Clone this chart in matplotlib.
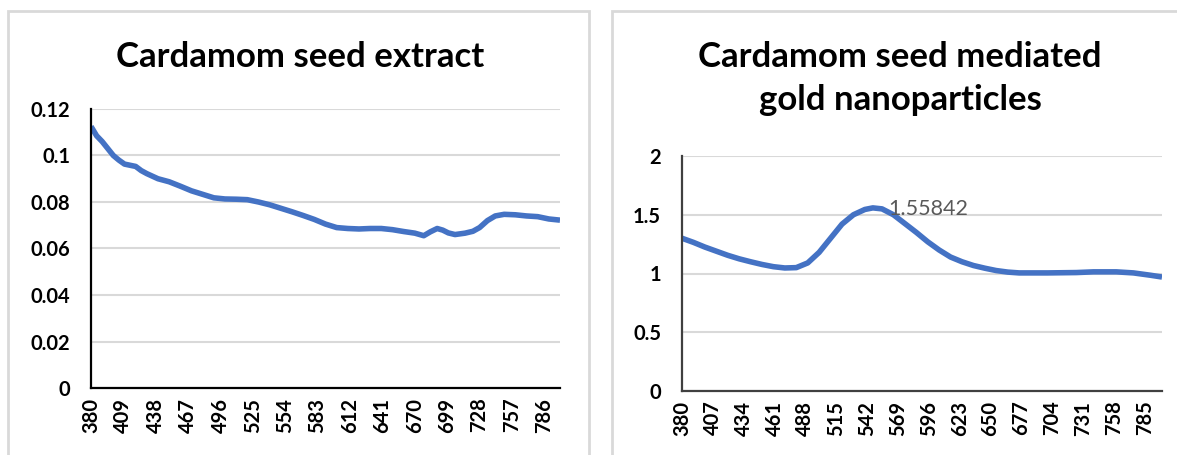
import matplotlib
matplotlib.use("Agg")
import matplotlib.pyplot as plt
from matplotlib.patches import Rectangle

plt.rcParams['font.family'] = ['Lato', 'DejaVu Sans']

# ---- data: left chart (Cardamom seed extract) ----
wl_extract = [380, 385, 390, 395, 400, 405, 410, 415, 420, 425, 430, 440, 450, 460,
              470, 480, 490, 500, 510, 520, 530, 540, 550, 560, 570, 580, 590, 600,
              610, 620, 630, 640, 650, 660, 670, 678, 684, 690, 695, 700, 706, 715,
              722, 728, 735, 742, 750, 760, 770, 780, 790, 800]
abs_extract = [0.1125, 0.1085, 0.1060, 0.1030, 0.1000, 0.0980, 0.0963, 0.0958, 0.0953,
               0.0935, 0.0922, 0.0900, 0.0887, 0.0868, 0.0848, 0.0833, 0.0818, 0.0813,
               0.0812, 0.0810, 0.0800, 0.0788, 0.0773, 0.0758, 0.0742, 0.0725, 0.0705,
               0.0690, 0.0686, 0.0684, 0.0686, 0.0686, 0.0681, 0.0673, 0.0666, 0.0655,
               0.0672, 0.0686, 0.0679, 0.0667, 0.0660, 0.0666, 0.0674, 0.0690, 0.0720,
               0.0740, 0.0747, 0.0745, 0.0740, 0.0737, 0.0727, 0.0722]
ticks_extract = [380, 409, 438, 467, 496, 525, 554, 583, 612, 641, 670, 699, 728, 757, 786]
yticks_extract = [0, 0.02, 0.04, 0.06, 0.08, 0.1, 0.12]
ylabels_extract = ['0', '0.02', '0.04', '0.06', '0.08', '0.1', '0.12']

# ---- data: right chart (gold nanoparticles) ----
wl_gold = [380, 390, 400, 410, 420, 430, 440, 450, 460, 470, 480, 490, 500, 510, 520,
           530, 540, 547, 555, 565, 575, 585, 595, 605, 615, 625, 635, 645, 655, 665,
           675, 700, 725, 740, 760, 775, 790, 800]
abs_gold = [1.30, 1.265, 1.225, 1.19, 1.155, 1.125, 1.10, 1.077, 1.058, 1.047, 1.050,
            1.090, 1.180, 1.300, 1.420, 1.500, 1.545, 1.55842, 1.550, 1.500, 1.425,
            1.350, 1.270, 1.200, 1.140, 1.100, 1.068, 1.045, 1.025, 1.012, 1.005,
            1.005, 1.008, 1.014, 1.014, 1.005, 0.985, 0.970]
ticks_gold = [380, 407, 434, 461, 488, 515, 542, 569, 596, 623, 650, 677, 704, 731, 758, 785]
yticks_gold = [0, 0.5, 1, 1.5, 2]
ylabels_gold = ['0', '0.5', '1', '1.5', '2']
peak_wl = 547
peak_val = 1.55842

W, H = 1177, 455
fig = plt.figure(figsize=(W / 100, H / 100), dpi=100)
fig.patch.set_facecolor('white')

# panel borders
border = '#d9d9d9'
fig.patches.append(Rectangle((8 / W, -0.05), (589 - 8) / W, (H - 11) / H + 0.05,
                             transform=fig.transFigure, fill=False,
                             edgecolor=border, linewidth=2))
fig.patches.append(Rectangle((612 / W, -0.05), (W + 20 - 612) / W, (H - 11) / H + 0.05,
                             transform=fig.transFigure, fill=False,
                             edgecolor=border, linewidth=2))

line_color = '#4472C4'
tick_fs = 14.5
title_fs = 25


def style(ax, spine_color):
    for s in ['top', 'right']:
        ax.spines[s].set_visible(False)
    for s in ['left', 'bottom']:
        ax.spines[s].set_color(spine_color)
        ax.spines[s].set_linewidth(1.6)
    ax.grid(axis='y', color='#d9d9d9', linewidth=1.5)
    ax.set_axisbelow(True)
    ax.tick_params(axis='both', length=0)
    ax.tick_params(axis='y', pad=15)
    ax.tick_params(axis='x', pad=7)
    for lab in ax.get_xticklabels() + ax.get_yticklabels():
        lab.set_fontweight('bold')
        lab.set_fontsize(tick_fs)
        lab.set_color('black')


# left axes
ax1 = fig.add_axes([91 / W, 1 - 388 / H, (560 - 91) / W, (388 - 109) / H])
ax1.plot(wl_extract, abs_extract, color=line_color, linewidth=4.0, solid_capstyle='butt')
ax1.set_xlim(380, 800)
ax1.set_ylim(0, 0.12)
ax1.set_xticks(ticks_extract)
ax1.set_xticklabels([str(t) for t in ticks_extract], rotation=90)
ax1.set_yticks(yticks_extract)
ax1.set_yticklabels(ylabels_extract)
style(ax1, 'black')
fig.text(300 / W, 1 - 57 / H, 'Cardamom seed extract', ha='center', va='center',
         fontsize=title_fs, fontweight='bold')

# right axes
ax2 = fig.add_axes([682 / W, 1 - 391 / H, (1162 - 682) / W, (391 - 156) / H])
ax2.plot(wl_gold, abs_gold, color=line_color, linewidth=4.0, solid_capstyle='butt')
ax2.set_xlim(380, 800)
ax2.set_ylim(0, 2)
ax2.set_xticks(ticks_gold)
ax2.set_xticklabels([str(t) for t in ticks_gold], rotation=90)
ax2.set_yticks(yticks_gold)
ax2.set_yticklabels(ylabels_gold)
style(ax2, '#404040')
ax2.annotate(f'{peak_val}', xy=(peak_wl, peak_val), xytext=(11, -1),
             textcoords='offset points', ha='left', va='center',
             fontsize=15.5, color='#595959')
fig.text(900 / W, 1 - 57 / H, 'Cardamom seed mediated', ha='center', va='center',
         fontsize=title_fs, fontweight='bold')
fig.text(900 / W, 1 - 100 / H, 'gold nanoparticles', ha='center', va='center',
         fontsize=title_fs, fontweight='bold')

fig.savefig('out.png', dpi=100, facecolor='white')
